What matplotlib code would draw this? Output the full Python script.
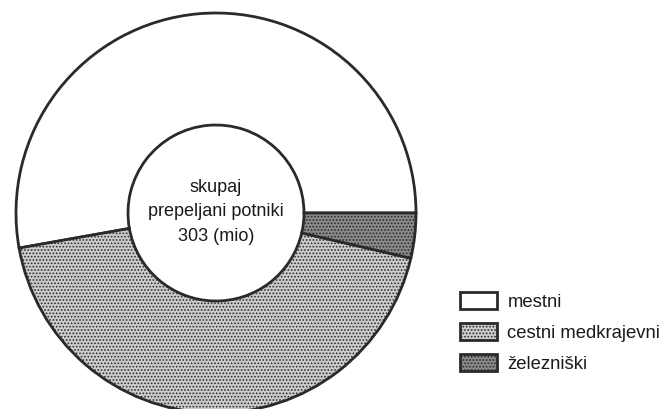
import matplotlib.pyplot as plt

labels = ['mestni', 'cestni medkrajevni', 'železniški']
values = [160, 132, 11]
colors = ['white', '#cdcdcd', '#8a8a8a']
hatches = [None, '.....', '.....']
center_lines = ['skupaj', 'prepeljani potniki', '303 (mio)']

plt.rcParams['font.family'] = ['Liberation Sans Narrow', 'Liberation Sans', 'DejaVu Sans']
plt.rcParams['hatch.linewidth'] = 0.8

fig = plt.figure(figsize=(6.67, 4.09), dpi=100)
ax = fig.add_axes([0, 0, 1, 1])

wedges, _ = ax.pie(values, colors=colors, center=(216, 196), radius=200,
                   startangle=0, counterclock=True,
                   wedgeprops=dict(width=112, edgecolor='#2a2a2a', linewidth=2))
for w, h in zip(wedges, hatches):
    if h:
        w.set_hatch(h)

ax.set_xlim(0, 667)
ax.set_ylim(0, 409)
ax.set_aspect('equal')
ax.axis('off')

ax.text(216, 197, '\n'.join(center_lines), ha='center', va='center',
        fontsize=13, linespacing=1.6, color='#1a1a1a')

leg = ax.legend(wedges, labels, loc='upper left', bbox_to_anchor=(451 / 667, 1 - 283 / 409),
                frameon=False, fontsize=13.3, handlelength=2.0, handleheight=1.05,
                labelspacing=0.65, handletextpad=0.55, borderpad=0)
for t in leg.get_texts():
    t.set_color('#1a1a1a')

fig.savefig('out.png', dpi=100)
